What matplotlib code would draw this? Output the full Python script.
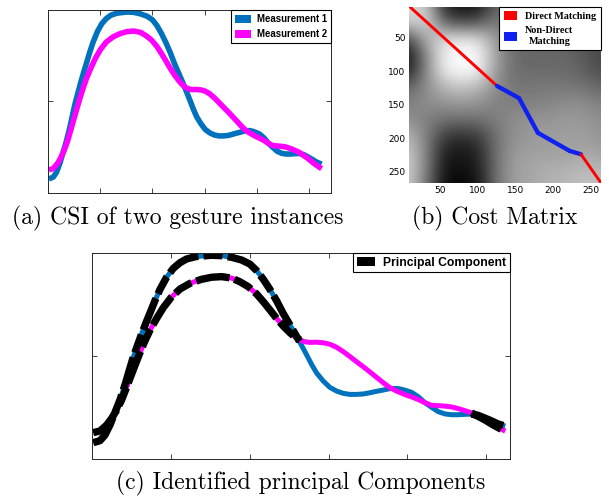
import matplotlib
matplotlib.use('Agg')
import matplotlib.pyplot as plt
import numpy as np
from matplotlib.patches import Patch

# ---------------- data ----------------
series_labels = ['Measurement 1', 'Measurement 2']
series_colors = ['#0072BD', '#FF00FF']

blue_x = [0.8, 5.1, 8.2, 11.4, 14.6, 17.7, 20.9, 23.7, 25.8, 28.7, 31.5, 34.6, 37.4, 39.9,
          43.1, 47.3, 51.5, 55.8, 60.0, 65.6, 69.5, 75.8, 82.2, 88.5, 94.8, 100.1, 104.4,
          108.6, 112.8, 117, 121.2, 125.5, 128.6, 131.5, 134, 136.5, 139.2, 142.4, 146.6,
          150.8, 155.1, 159.3, 163.5, 167.7, 171.9, 176.2, 180.4, 184.6, 188.8, 193.1,
          196.2, 199, 202.6, 206.8, 211, 215.3, 219.5, 223.7, 227.9, 232.1, 236.4, 240.6,
          244.8, 249, 253.3, 257.5, 262]
blue_y = [0.077, 0.087, 0.114, 0.163, 0.225, 0.285, 0.358, 0.431, 0.485, 0.548, 0.607,
          0.668, 0.720, 0.768, 0.823, 0.882, 0.925, 0.953, 0.971, 0.982, 0.985, 0.989,
          0.987, 0.979, 0.966, 0.946, 0.914, 0.872, 0.823, 0.768, 0.706, 0.650, 0.609,
          0.570, 0.534, 0.498, 0.458, 0.416, 0.377, 0.346, 0.328, 0.317, 0.312, 0.312,
          0.314, 0.320, 0.327, 0.333, 0.340, 0.341, 0.337, 0.331, 0.322, 0.301, 0.272,
          0.249, 0.228, 0.217, 0.213, 0.213, 0.215, 0.216, 0.210, 0.197, 0.183, 0.168,
          0.158]

mag_x = [0.8, 5.1, 9.3, 12.5, 15.6, 18.8, 21.5, 24.5, 27.5, 30.4, 33.6, 36.8, 41.0, 45.2,
         50.1, 55.8, 62.1, 65.6, 69.5, 75.8, 82.2, 88.5, 93.8, 99.1, 104.4, 108.6, 112.8,
         117, 121.2, 125.5, 128.6, 132, 135, 138.1, 142.4, 146.6, 150.8, 155.1, 159.3,
         163.5, 167.7, 171.9, 176.2, 180.4, 184.6, 188.8, 193.1, 196.2, 199, 202.6, 206.8,
         211, 215.3, 219.5, 223.7, 227.9, 232.1, 236.4, 240.6, 244.8, 249, 253.3, 257.5,
         262]
mag_y = [0.126, 0.134, 0.163, 0.196, 0.235, 0.285, 0.338, 0.398, 0.458, 0.515, 0.573,
         0.625, 0.682, 0.734, 0.783, 0.825, 0.852, 0.862, 0.872, 0.882, 0.885, 0.878,
         0.860, 0.836, 0.800, 0.763, 0.723, 0.682, 0.645, 0.612, 0.592, 0.576, 0.568,
         0.565, 0.566, 0.563, 0.556, 0.541, 0.520, 0.496, 0.471, 0.447, 0.421, 0.395,
         0.369, 0.345, 0.328, 0.318, 0.309, 0.300, 0.287, 0.272, 0.259, 0.257, 0.255,
         0.251, 0.243, 0.233, 0.222, 0.205, 0.188, 0.168, 0.150, 0.133]

principal_ranges = [(0, 132), (240, 263)]
principal_label = 'Principal Component'

x_ticks = [50, 100, 150, 200, 250]
y_ticks = [0.5]

# cost matrix (gray level), rows = y, cols = x
cost_x = [10, 33, 56, 79, 102, 125, 148, 171, 194, 217, 240, 263]
cost_y = [3, 27, 51, 75, 99, 123, 147, 171, 195, 219, 243, 266]
cost = [
    [0.85, 0.80, 0.15, 0.05, 0.08, 0.40, 0.38, 0.36, 0.35, 0.33, 0.30, 0.28],
    [0.80, 0.85, 0.40, 0.30, 0.35, 0.50, 0.40, 0.38, 0.37, 0.35, 0.32, 0.28],
    [0.30, 0.70, 0.85, 0.90, 0.85, 0.60, 0.42, 0.40, 0.40, 0.38, 0.35, 0.28],
    [0.08, 0.55, 0.95, 1.00, 0.98, 0.62, 0.42, 0.40, 0.40, 0.40, 0.35, 0.28],
    [0.12, 0.55, 0.92, 0.98, 0.95, 0.60, 0.43, 0.42, 0.42, 0.42, 0.38, 0.30],
    [0.40, 0.55, 0.72, 0.78, 0.72, 0.55, 0.46, 0.47, 0.47, 0.47, 0.45, 0.40],
    [0.50, 0.55, 0.58, 0.60, 0.58, 0.50, 0.50, 0.50, 0.52, 0.55, 0.55, 0.50],
    [0.55, 0.50, 0.45, 0.45, 0.45, 0.50, 0.55, 0.58, 0.58, 0.60, 0.60, 0.55],
    [0.70, 0.50, 0.25, 0.20, 0.25, 0.45, 0.56, 0.60, 0.62, 0.62, 0.62, 0.58],
    [0.78, 0.50, 0.12, 0.10, 0.15, 0.45, 0.60, 0.62, 0.62, 0.63, 0.65, 0.62],
    [0.82, 0.50, 0.08, 0.06, 0.12, 0.45, 0.62, 0.65, 0.68, 0.68, 0.72, 0.70],
    [0.80, 0.45, 0.05, 0.02, 0.08, 0.45, 0.62, 0.65, 0.70, 0.72, 0.75, 0.75],
]
cost_ticks = [50, 100, 150, 200, 250]

path_x = [10, 126, 155, 180, 222, 237, 263]
path_y = [3, 122, 140, 192, 219, 224, 266]
path_direct = [True, False, False, False, False, True]   # per segment
path_labels = ['Direct Matching', 'Non-Direct\nMatching']
path_colors = ['#FF0000', '#1020F0']

captions = ['(a) CSI of two gesture instances', '(b) Cost Matrix',
            '(c) Identified principal Components']

# ---------------- figure ----------------
W, H = 609, 498
fig = plt.figure(figsize=(W / 100, H / 100), dpi=100)


def px_axes(l, t, r, b):
    return fig.add_axes([l / W, 1 - b / H, (r - l) / W, (b - t) / H])


def style_line_axes(ax, xmax):
    ax.set_xlim(0, xmax)
    ax.set_ylim(0, 1)
    ax.set_xticks(x_ticks)
    ax.set_yticks(y_ticks)
    ax.tick_params(direction='in', top=True, right=True, length=3.5, width=0.6,
                   color='#262626', labelbottom=False, labelleft=False)
    for s in ax.spines.values():
        s.set_color('#262626')
        s.set_linewidth(0.7)


sans_bold = {'family': 'Liberation Sans', 'weight': 'bold'}

# (a)
axa = px_axes(48, 10, 331, 193)
for xs, ys, c in [(blue_x, blue_y, series_colors[0]), (mag_x, mag_y, series_colors[1])]:
    axa.plot(xs, ys, color=c, lw=4.0, solid_capstyle='butt', solid_joinstyle='round')
style_line_axes(axa, 271)
handles = [Patch(facecolor=c, edgecolor='none') for c in series_colors]
leg = axa.legend(handles, series_labels, loc='upper right', borderaxespad=0,
                 prop=dict(sans_bold, size=6.9), fancybox=False, framealpha=1,
                 edgecolor='black', borderpad=0.45, labelspacing=0.5,
                 handlelength=1.6, handleheight=0.9, handletextpad=0.6)
leg.get_frame().set_linewidth(0.8)

# (b)
axb = px_axes(409, 6.7, 601, 182.7)
dx = cost_x[1] - cost_x[0]
dy = cost_y[1] - cost_y[0]
axb.imshow(np.array(cost), cmap='gray', vmin=0, vmax=1, aspect='auto',
           interpolation='bicubic',
           extent=[cost_x[0] - dx / 2, cost_x[-1] + dx / 2,
                   cost_y[-1] + dy / 2, cost_y[0] - dy / 2])
for i, direct in enumerate(path_direct):
    axb.plot(path_x[i:i + 2], path_y[i:i + 2],
             color=path_colors[0] if direct else path_colors[1],
             lw=2.1 if direct else 3.1, solid_capstyle='round')
axb.set_xlim(9.5, 263.5)
axb.set_ylim(266.5, 3.5)
axb.set_xticks(cost_ticks)
axb.set_yticks(cost_ticks)
axb.tick_params(length=0, pad=2.5, labelsize=6.5)
for s in axb.spines.values():
    s.set_visible(False)
phandles = [Patch(facecolor=c, edgecolor='none') for c in path_colors]
legb = axb.legend(phandles, path_labels, loc='upper right', borderaxespad=0,
                  prop={'family': 'Liberation Serif', 'weight': 'bold', 'size': 7.3},
                  fancybox=False, framealpha=1, edgecolor='black', borderpad=0.45,
                  labelspacing=0.5, handlelength=1.3, handleheight=1.0,
                  handletextpad=0.8)
legb.get_frame().set_linewidth(0.8)
for t in legb.get_texts():
    t.set_multialignment('center')

# (c)
axc = px_axes(92, 253, 510, 458.5)
for xs, ys, c in [(blue_x, blue_y, series_colors[0]), (mag_x, mag_y, series_colors[1])]:
    axc.plot(xs, ys, color=c, lw=3.6, solid_capstyle='butt', solid_joinstyle='round')
for xs, ys in [(blue_x, blue_y), (mag_x, mag_y)]:
    xa = np.array(xs)
    ya = np.array(ys)
    for lo, hi in principal_ranges:
        m = (xa >= lo) & (xa <= hi)
        axc.plot(xa[m], ya[m], color='black', lw=5.3,
                 dashes=(4.6, 0.7, 2.6, 0.7), dash_capstyle='butt',
                 solid_joinstyle='round', dash_joinstyle='round')
style_line_axes(axc, 265)
legc = axc.legend([Patch(facecolor='black', edgecolor='none')], [principal_label],
                  loc='upper right', borderaxespad=0,
                  prop=dict(sans_bold, size=8.7), fancybox=False, framealpha=1,
                  edgecolor='black', borderpad=0.3, handlelength=1.5,
                  handleheight=0.7, handletextpad=0.7)
legc.get_frame().set_linewidth(0.8)

# captions
cap_kw = dict(family='cmr10', size=17, ha='center', va='baseline')
fig.text(177.5 / W, 1 - 224 / H, captions[0], **cap_kw)
fig.text(495 / W, 1 - 224 / H, captions[1], **cap_kw)
fig.text(301 / W, 1 - 489 / H, captions[2], **cap_kw)

fig.savefig('out.png', dpi=100)
